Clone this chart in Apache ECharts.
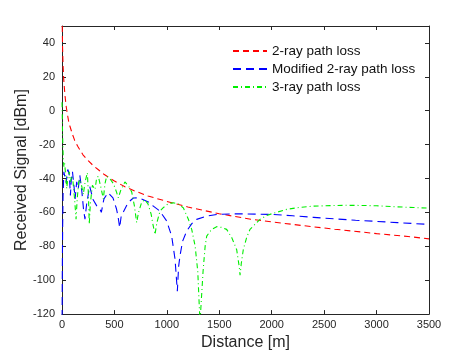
<!DOCTYPE html>
<html>
<head>
<meta charset="utf-8">
<script src="https://cdn.jsdelivr.net/npm/echarts@6/dist/echarts.min.js"></script>
<style>
html,body{margin:0;padding:0;background:#fff;}
#c{width:474px;height:356px;}
</style>
</head>
<body>
<div id="c"></div>
<script>
// Distance ticks and values
var xTicks = [0, 500, 1000, 1500, 2000, 2500, 3000, 3500];
var yTicks = [-120, -100, -80, -60, -40, -20, 0, 20, 40];

// 2-ray path loss (red)
var redD = [2.6, 3, 5, 10, 15, 20, 30, 40, 50, 64, 75, 100, 121, 150, 200, 250, 300, 350, 400, 450, 500, 600, 700, 820, 1000, 1200, 1500, 1800, 2000, 2300, 2600, 3000, 3300, 3500];
var redV = [50, 47.5, 38.5, 27, 20, 15.5, 8, 2.5, -1.5, -6.5, -9, -14, -17.5, -21, -26, -29.5, -32.5, -35, -37.5, -39.5, -41.5, -44.8, -47.5, -50.3, -53.5, -56.8, -60.8, -64, -65.6, -67.8, -69.9, -72.5, -74.2, -75.6];

// Modified 2-ray path loss (blue)
var blueD = [0.5, 3, 6, 10, 18, 30, 41, 50, 57, 70, 80, 89, 100, 115, 125, 140, 155, 170, 190, 205, 219, 235, 264, 296, 330, 362, 375, 400, 439, 486, 520, 534, 550, 565, 582, 629, 680, 725, 776, 830, 871, 930, 998, 1046, 1078, 1100, 1112, 1125, 1150, 1189, 1240, 1284, 1380, 1475, 1600, 1698, 1850, 2015, 2200, 2400, 2600, 2800, 3000, 3200, 3478, 3500];
var blueV = [-130, -95, -70, -50, -36, -40, -42.5, -36, -34.7, -38, -50, -40.6, -36, -45, -52, -42, -46, -38, -48, -58, -64, -55, -44.5, -52.4, -56, -58, -60, -52, -48.4, -51.4, -58, -62.2, -69, -62, -60.2, -54.3, -51.5, -51.4, -52.5, -54, -56.3, -59, -65, -74, -87.6, -106.5, -92, -85.7, -77, -71, -66.5, -64.1, -62.2, -61.2, -60.9, -60.8, -61, -61.2, -62, -62.9, -63.8, -64.6, -65.3, -66, -67, -67.1];

// 3-ray path loss (green)
var greenD = [0.3, 2, 5, 8, 12, 18, 25, 35, 45, 55, 70, 80, 92, 105, 120, 134, 145, 160, 172, 190, 203, 220, 242, 252, 260, 270, 290, 315, 330, 346, 370, 394, 410, 426, 450, 490, 520, 537, 560, 600, 640, 665, 690, 712, 730, 760, 790, 820, 850, 870, 887, 905, 935, 966, 1010, 1062, 1110, 1157, 1205, 1237, 1270, 1295, 1316, 1330, 1345, 1365, 1380, 1427, 1475, 1520, 1570, 1620, 1666, 1690, 1698, 1710, 1729, 1760, 1793, 1825, 1888, 1952, 2015, 2143, 2270, 2400, 2556, 2700, 2873, 3000, 3192, 3350, 3500];
var greenV = [5, 0, -12, -20, -28, -33, -31, -38, -46, -40, -36, -42, -38.6, -42, -52, -64, -52, -42, -40.6, -45, -49.4, -42, -36.6, -50, -67, -55, -44, -46.5, -40, -38.6, -45, -52, -43, -38.6, -39.5, -43, -48, -51.4, -47, -42, -45, -48, -56, -66, -60, -54, -52.5, -55, -61, -68, -73, -66, -59.2, -57.2, -55, -54.3, -55, -57.3, -64, -70, -80, -95, -125, -125, -95, -80, -74, -70, -68.4, -68.8, -70, -75, -82, -92, -97, -90, -82, -75, -70, -68, -64.1, -61.8, -60.5, -58.2, -57, -56.3, -56, -55.8, -55.9, -56.1, -56.7, -57.1, -57.5];

var seriesNames = ['2-ray path loss', 'Modified 2-ray path loss', '3-ray path loss'];

function zip(a, b) { var out = []; for (var i = 0; i < a.length; i++) out.push([a[i], b[i]]); return out; }

var FONT = "'Liberation Sans', Arial, Helvetica, sans-serif";
var AX = '#262626';

var chart = echarts.init(document.getElementById('c'), null, {renderer: 'canvas'});
var baseAxisLine = {show: true, onZero: false, lineStyle: {color: AX, width: 1}};
var tick = {show: true, inside: true, length: 4, lineStyle: {color: AX}};
var option = {
  backgroundColor: '#ffffff',
  animation: false,
  textStyle: {fontFamily: FONT},
  grid: {left: 62, right: 45, top: 26, bottom: 41, containLabel: false},
  legend: {
    orient: 'vertical',
    left: 227,
    top: 39,
    itemWidth: 34,
    itemHeight: 12,
    itemGap: 4,
    itemStyle: {opacity: 0, borderWidth: 0},
    textStyle: {fontSize: 13.5, color: '#111', fontFamily: FONT},
    data: seriesNames
  },
  xAxis: [{
    type: 'value', min: 0, max: 3500, interval: 500,
    name: 'Distance [m]', nameLocation: 'middle', nameGap: 18,
    nameTextStyle: {fontSize: 16, color: AX, fontFamily: FONT},
    axisLine: baseAxisLine, axisTick: tick,
    axisLabel: {fontSize: 11, color: AX, margin: 5, fontFamily: FONT, formatter: function (v) { return String(v); }},
    splitLine: {show: false}
  }, {
    type: 'value', min: 0, max: 3500, interval: 500, position: 'top',
    axisLine: baseAxisLine, axisTick: tick,
    axisLabel: {show: false}, splitLine: {show: false}
  }],
  yAxis: [{
    type: 'value', min: -120, max: 50, interval: 20,
    name: 'Received Signal [dBm]', nameLocation: 'middle', nameGap: 32, nameMoveOverlap: false,
    nameTextStyle: {fontSize: 16, color: AX, fontFamily: FONT},
    axisLine: baseAxisLine, axisTick: tick,
    axisLabel: {fontSize: 11, color: AX, margin: 7, showMaxLabel: false, fontFamily: FONT},
    splitLine: {show: false}
  }, {
    type: 'value', min: -120, max: 50, interval: 20, position: 'right',
    axisLine: baseAxisLine, axisTick: tick,
    axisLabel: {show: false}, splitLine: {show: false}
  }],
  series: [{
    name: seriesNames[0], type: 'line', symbol: 'none', clip: true,
    data: zip(redD, redV),
    itemStyle: {color: '#ff0000'},
    lineStyle: {color: '#ff0000', width: 1.1, type: [6, 4]}
  }, {
    name: seriesNames[1], type: 'line', symbol: 'none', clip: true,
    data: zip(blueD, blueV),
    itemStyle: {color: '#0000ff'},
    lineStyle: {color: '#0000ff', width: 1.1, type: [8, 5]}
  }, {
    name: seriesNames[2], type: 'line', symbol: 'none', clip: true,
    data: zip(greenD, greenV),
    itemStyle: {color: '#00ee00'},
    lineStyle: {color: '#00ee00', width: 1.1, type: [5, 3, 1, 3]}
  }]
};
chart.setOption(option);
</script>
</body>
</html>
